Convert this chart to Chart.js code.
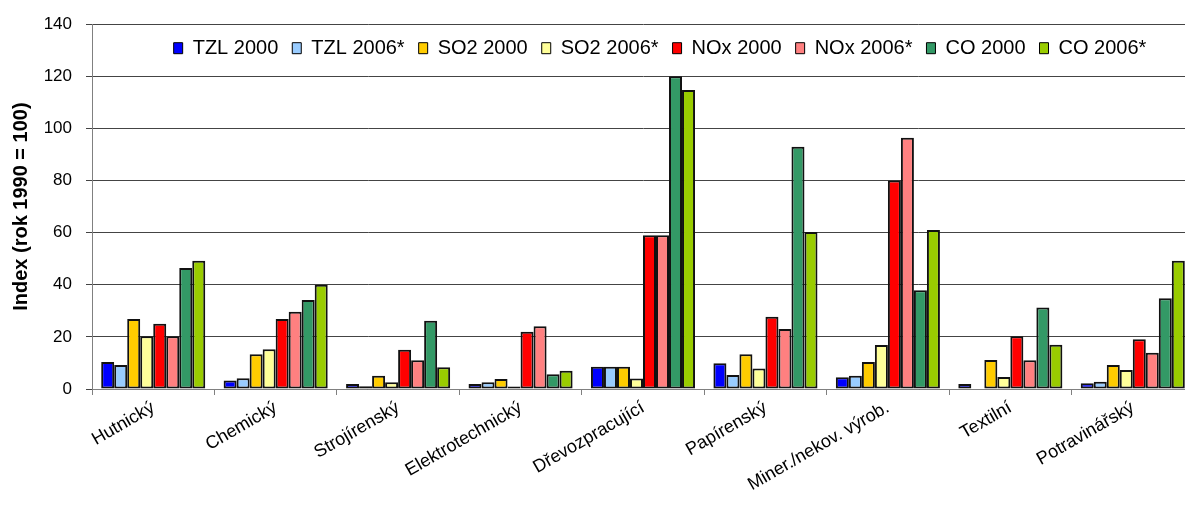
<!DOCTYPE html>
<html>
<head>
<meta charset="utf-8">
<script src="https://cdn.jsdelivr.net/npm/chart.js@4"></script>
<style>
  html, body { margin: 0; padding: 0; background: #fff; overflow: hidden; }
  #wrap { width: 1196px; height: 511px; position: relative; }
</style>
</head>
<body>
<div id="wrap"><canvas id="graf"></canvas></div>
<script>
// odvětví
const kategorie = ['Hutnický', 'Chemický', 'Strojírenský', 'Elektrotechnický', 'Dřevozpracující',
  'Papírenský', 'Miner./nekov. výrob.', 'Textilní', 'Potravinářský'];

// index (rok 1990 = 100)
const tzl2000 = [10.4, 3.3, 1.9, 1.9, 8.5, 9.9, 4.5, 1.9, 2.2];
const tzl2006 = [9.2, 4.1, 1.1, 2.6, 8.5, 5.4, 5.1, null, 2.8];
const so2_2000 = [26.9, 13.3, 5.1, 3.8, 8.5, 13.3, 10.4, 11.1, 9.2];
const so2_2006 = [20.2, 15.3, 2.6, 1.0, 4.0, 7.9, 16.9, 4.6, 7.3];
const nox2000 = [25.0, 26.9, 15.1, 22.0, 59.0, 27.7, 80.0, 20.2, 19.1];
const nox2006 = [20.2, 29.6, 11.0, 24.1, 59.0, 23.0, 96.4, 11.0, 13.9];
const co2000 = [46.4, 34.2, 26.2, 5.7, 120.0, 93.0, 37.9, 31.3, 34.8];
const co2006 = [49.2, 40.0, 8.3, 7.0, 114.7, 60.3, 61.0, 17.0, 49.2];

const yTicks = [0, 20, 40, 60, 80, 100, 120, 140];

const font = '"Liberation Sans", Arial, sans-serif';

const serie = [
  ['TZL 2000', tzl2000, '#0000FF'],
  ['TZL 2006*', tzl2006, '#99CCFF'],
  ['SO2 2000', so2_2000, '#FFCC00'],
  ['SO2 2006*', so2_2006, '#FFFF99'],
  ['NOx 2000', nox2000, '#FF0000'],
  ['NOx 2006*', nox2006, '#FF8080'],
  ['CO 2000', co2000, '#339966'],
  ['CO 2006*', co2006, '#99CC00']
];

// legenda lezi uvnitr grafu (pod carou 140), nahore zabere jen okraj
const legendaUvnitr = {
  id: 'legendaUvnitr',
  beforeLayout(chart) {
    const lg = chart.legend;
    if (lg && !lg._uvnitr) {
      const fit = lg.fit;
      lg.fit = function () { fit.call(this); this.height = 23; };
      lg._uvnitr = true;
    }
  },
  afterLayout(chart) {
    const lg = chart.legend;
    lg.top = chart.chartArea.top;
    lg.bottom = lg.top + 50;
    lg.left += 17;
    lg.right += 17;
  }
};

new Chart(document.getElementById('graf'), {
  type: 'bar',
  data: {
    labels: kategorie,
    datasets: serie.map(([label, data, barva]) => ({
      label,
      data,
      backgroundColor: barva,
      borderColor: '#111',
      borderWidth: 2,
      borderSkipped: false,
      categoryPercentage: 0.85,
      barPercentage: 1
    }))
  },
  plugins: [legendaUvnitr],
  options: {
    responsive: true,
    maintainAspectRatio: false,
    animation: false,
    layout: { padding: { top: 0, right: 2, left: 0, bottom: 0 } },
    plugins: {
      tooltip: { enabled: false },
      legend: {
        position: 'top',
        fullSize: false,
        align: 'center',
        labels: {
          color: '#000',
          font: { family: font, size: 20 },
          boxWidth: 9,
          boxHeight: 11,
          padding: 14,
          generateLabels: chart => Chart.defaults.plugins.legend.labels.generateLabels(chart)
            .map(l => Object.assign(l, { lineWidth: 1, strokeStyle: '#000' }))
        }
      }
    },
    scales: {
      x: {
        grid: { drawOnChartArea: false, drawTicks: true, tickLength: 6, color: '#808080', offset: true },
        border: { color: '#808080', width: 1 },
        ticks: {
          color: '#000',
          font: { family: font, size: 18 },
          maxRotation: 30,
          minRotation: 30,
          padding: 2
        },
        afterFit: s => { s.height = 122; }
      },
      y: {
        min: 0,
        max: 140,
        afterBuildTicks: s => { s.ticks = yTicks.map(v => ({ value: v })); },
        grid: { color: '#444', lineWidth: 1, tickLength: 6, tickColor: '#444' },
        border: { color: '#808080', width: 1 },
        ticks: {
          color: '#000',
          font: { family: font, size: 17 },
          padding: 14
        },
        title: {
          display: true,
          text: 'Index (rok 1990 = 100)',
          color: '#000',
          font: { family: font, size: 20, weight: 'bold' },
          padding: { top: 9, bottom: 0 }
        },
        afterFit: s => { s.width = 92; }
      }
    }
  }
});
</script>
</body>
</html>
